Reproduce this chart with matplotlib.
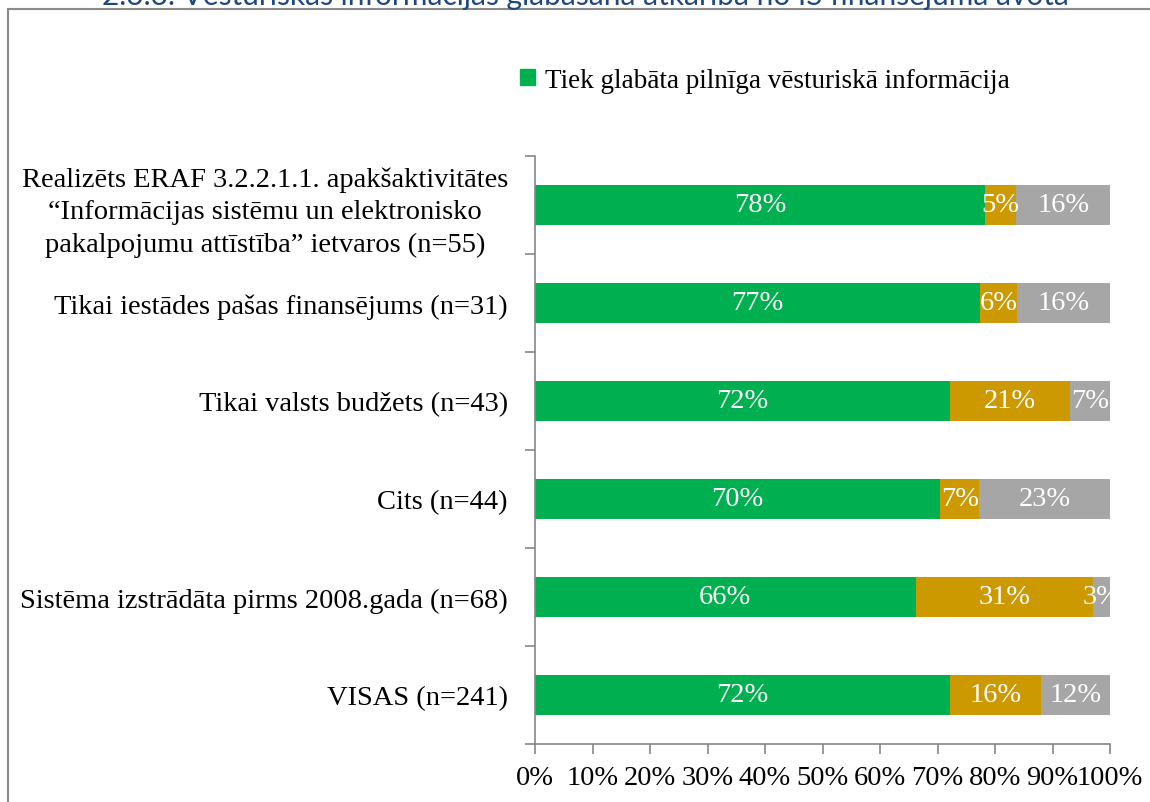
import numpy as np
import matplotlib
matplotlib.use("Agg")
import matplotlib.pyplot as plt
from matplotlib.patches import Patch, Rectangle

# dati (augšā -> apakšā)
categories = [
    "Realizēts ERAF 3.2.2.1.1. apakšaktivitātes\n\u201cInformācijas sistēmu un elektronisko\npakalpojumu attīstība\u201d ietvaros (n=55)",
    "Tikai iestādes pašas finansējums (n=31)",
    "Tikai valsts budžets (n=43)",
    "Cits (n=44)",
    "Sistēma izstrādāta pirms 2008.gada (n=68)",
    "VISAS (n=241)",
]
pilniga = [78.2, 77.4, 72.1, 70.5, 66.2, 72.2]
dalja = [5.5, 6.5, 20.9, 6.8, 30.9, 15.8]
nav = [16.3, 16.1, 7.0, 22.7, 2.9, 12.0]
labels_pilniga = ["78%", "77%", "72%", "70%", "66%", "72%"]
labels_dalja = ["5%", "6%", "21%", "7%", "31%", "16%"]
labels_nav = ["16%", "16%", "7%", "23%", "3%", "12%"]
xticks = [0, 10, 20, 30, 40, 50, 60, 70, 80, 90, 100]

title = "2.3.3. Vēsturiskās informācijas glabāšanā atkarībā no IS finansējuma avota"
legend_label = "Tiek glabāta pilnīga vēsturiskā informācija"

green = "#00B050"
gold = "#CC9900"
grey = "#A6A6A6"
axis_col = "#868686"

plt.rcParams["font.family"] = ["Liberation Serif", "DejaVu Serif"]

fig = plt.figure(figsize=(11.5, 8.03), dpi=100)
ax = fig.add_axes([535 / 1150, 1 - 745 / 803, 575 / 1150, 588 / 803])

n = len(categories)
y = np.arange(n)
h = 0.4
left = np.zeros(n)
for vals, labs, col in [(pilniga, labels_pilniga, green), (dalja, labels_dalja, gold), (nav, labels_nav, grey)]:
    bars = ax.barh(y, vals, left=left, height=h, color=col, edgecolor="none")
    for b, lab in zip(bars, labs):
        ax.text(b.get_x() + b.get_width() / 2, b.get_y() + b.get_height() / 2, lab,
                ha="center", va="center", color="white", fontsize=20.5)
    left = left + np.array(vals)

ax.set_xlim(0, 100)
ax.set_ylim(n - 0.5, -0.5)

ax.set_xticks(xticks)
ax.set_xticklabels([f"{t}%" for t in xticks], fontsize=20.5)
ax.tick_params(axis="x", length=7, color=axis_col, pad=8, width=1.2)

ax.set_yticks(np.arange(-0.5, n, 1.0))
ax.set_yticklabels([])
ax.tick_params(axis="y", which="major", length=7, color=axis_col, width=1.2)
ax.set_yticks(y, minor=True)
ax.set_yticklabels(categories, minor=True, fontsize=20.5, multialignment="center", linespacing=1.4)
ax.tick_params(axis="y", which="minor", length=0, pad=19.5)

for s in ["top", "right"]:
    ax.spines[s].set_visible(False)
for s in ["left", "bottom"]:
    ax.spines[s].set_color(axis_col)
    ax.spines[s].set_linewidth(1.2)

# legenda (redzams tikai pirmais ieraksts)
fig.legend(handles=[Patch(color=green, label=legend_label)], loc="center left",
           bbox_to_anchor=(496 / 1150, 1 - 81 / 803), frameon=False, fontsize=19.5,
           handlelength=0.55, handleheight=0.55, handletextpad=0.35)

# rāmis
fig.patches.append(Rectangle((8 / 1150, -0.05), 1.1, 1 - 10 / 803 + 0.05, transform=fig.transFigure,
                             fill=False, edgecolor="#8A8A8A", linewidth=1.5))

# nogriezts virsraksts
fig.text(585 / 1150, 1 - 5 / 803, title, ha="center", va="baseline", fontsize=21.5,
         color="#1F497D", family=["Lato", "DejaVu Sans"])

fig.savefig("out.png", dpi=100)
